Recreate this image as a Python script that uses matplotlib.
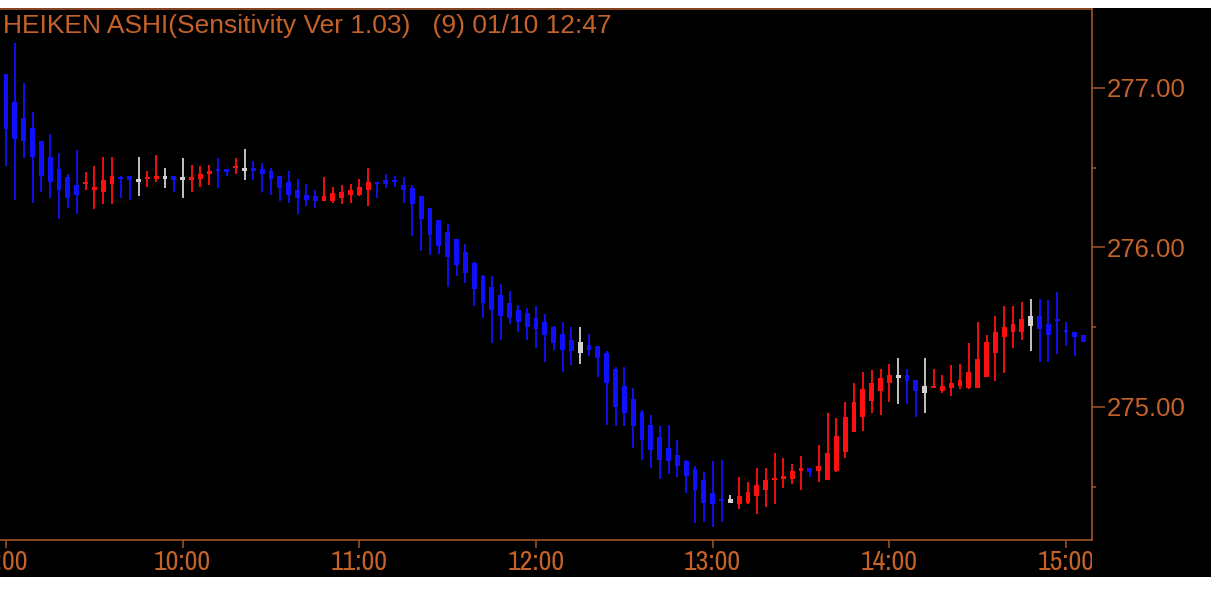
import numpy as np
import matplotlib
matplotlib.use("Agg")
import matplotlib.pyplot as plt
from matplotlib import font_manager as fm
from matplotlib.patches import Rectangle
from matplotlib.transforms import Bbox, TransformedBbox
from matplotlib.ticker import FixedLocator

# ---------------- data (3-minute Heiken Ashi candles from 9:00) ----------------
opens = [277.09, 276.91, 276.81, 276.75, 276.67, 276.57, 276.49, 276.44, 276.39, 276.40,
         276.36, 276.35, 276.40, 276.44, 276.45, 276.41, 276.43, 276.43, 276.43, 276.45,
         276.42, 276.42, 276.43, 276.46, 276.49, 276.49, 276.50, 276.48, 276.50, 276.49,
         276.48, 276.45, 276.41, 276.36, 276.33, 276.32, 276.29, 276.29, 276.31, 276.33,
         276.33, 276.36, 276.41, 276.42, 276.42, 276.39, 276.37, 276.32, 276.25, 276.17,
         276.10, 276.05, 275.97, 275.90, 275.82, 275.75, 275.70, 275.65, 275.61, 275.59,
         275.56, 275.53, 275.50, 275.46, 275.42, 275.41, 275.39, 275.38, 275.34, 275.24,
         275.13, 275.05, 274.97, 274.89, 274.81, 274.74, 274.70, 274.66, 274.61, 274.54,
         274.46, 274.42, 274.40, 274.39, 274.40, 274.44, 274.48, 274.54, 274.55, 274.55,
         274.60, 274.62, 274.60, 274.54, 274.60, 274.72, 274.84, 274.94, 275.04, 275.10,
         275.15, 275.18, 275.20, 275.17, 275.13, 275.12, 275.10, 275.12, 275.13, 275.12,
         275.12, 275.19, 275.34, 275.44, 275.47, 275.47, 275.51, 275.57, 275.52, 275.55,
         275.48, 275.47, 275.45]
highs = [277.09, 277.28, 277.03, 276.85, 276.67, 276.71, 276.59, 276.46, 276.61, 276.47,
         276.51, 276.57, 276.57, 276.45, 276.45, 276.57, 276.48, 276.58, 276.50, 276.45,
         276.56, 276.52, 276.51, 276.52, 276.56, 276.49, 276.56, 276.62, 276.54, 276.53,
         276.50, 276.45, 276.48, 276.43, 276.40, 276.36, 276.44, 276.38, 276.39, 276.40,
         276.43, 276.50, 276.41, 276.46, 276.45, 276.44, 276.39, 276.32, 276.25, 276.17,
         276.15, 276.05, 276.02, 275.91, 275.83, 275.82, 275.77, 275.73, 275.64, 275.62,
         275.63, 275.58, 275.51, 275.53, 275.50, 275.50, 275.46, 275.38, 275.35, 275.25,
         275.25, 275.12, 274.98, 274.95, 274.88, 274.89, 274.79, 274.67, 274.63, 274.59,
         274.66, 274.67, 274.45, 274.56, 274.53, 274.62, 274.62, 274.71, 274.68, 274.64,
         274.69, 274.62, 274.76, 274.96, 274.93, 275.03, 275.15, 275.22, 275.23, 275.24,
         275.27, 275.31, 275.24, 275.17, 275.31, 275.24, 275.20, 275.26, 275.27, 275.40,
         275.53, 275.45, 275.57, 275.63, 275.63, 275.66, 275.68, 275.68, 275.67, 275.72,
         275.53, 275.47, 275.45]
lows = [276.51, 276.30, 276.56, 276.28, 276.35, 276.31, 276.18, 276.25, 276.21, 276.36,
        276.24, 276.27, 276.27, 276.31, 276.30, 276.32, 276.38, 276.41, 276.37, 276.35,
        276.31, 276.35, 276.38, 276.39, 276.37, 276.45, 276.46, 276.42, 276.42, 276.35,
        276.33, 276.29, 276.28, 276.21, 276.26, 276.25, 276.29, 276.28, 276.27, 276.28,
        276.32, 276.26, 276.31, 276.37, 276.38, 276.28, 276.07, 275.98, 275.95, 275.96,
        275.75, 275.82, 275.78, 275.63, 275.56, 275.40, 275.42, 275.52, 275.47, 275.42,
        275.37, 275.28, 275.36, 275.22, 275.26, 275.27, 275.32, 275.19, 274.89, 274.88,
        274.88, 274.74, 274.67, 274.62, 274.55, 274.58, 274.56, 274.46, 274.27, 274.28,
        274.25, 274.28, 274.40, 274.36, 274.39, 274.33, 274.37, 274.39, 274.49, 274.52,
        274.48, 274.56, 274.53, 274.54, 274.59, 274.68, 274.84, 274.85, 274.96, 274.95,
        275.03, 275.02, 275.02, 274.94, 274.96, 275.12, 275.09, 275.07, 275.11, 275.11,
        275.12, 275.19, 275.16, 275.21, 275.37, 275.42, 275.35, 275.28, 275.28, 275.33,
        275.38, 275.32, 275.41]
closes = [276.74, 276.68, 276.67, 276.57, 276.45, 276.41, 276.36, 276.31, 276.33, 276.41,
          276.38, 276.42, 276.45, 276.43, 276.42, 276.43, 276.44, 276.45, 276.45, 276.42,
          276.44, 276.44, 276.46, 276.48, 276.48, 276.47, 276.51, 276.50, 276.48, 276.46,
          276.43, 276.37, 276.33, 276.31, 276.30, 276.29, 276.32, 276.34, 276.35, 276.36,
          276.38, 276.41, 276.40, 276.40, 276.41, 276.36, 276.27, 276.18, 276.08, 276.01,
          275.94, 275.89, 275.84, 275.74, 275.65, 275.61, 275.57, 275.56, 275.53, 275.50,
          275.49, 275.45, 275.40, 275.36, 275.35, 275.34, 275.36, 275.31, 275.15, 275.00,
          274.96, 274.88, 274.79, 274.73, 274.67, 274.66, 274.63, 274.57, 274.48, 274.40,
          274.39, 274.41, 274.42, 274.44, 274.47, 274.51, 274.54, 274.55, 274.57, 274.60,
          274.62, 274.59, 274.63, 274.71, 274.82, 274.94, 275.03, 275.11, 275.15, 275.18,
          275.20, 275.20, 275.16, 275.10, 275.09, 275.13, 275.13, 275.15, 275.17, 275.22,
          275.30, 275.41, 275.47, 275.50, 275.52, 275.55, 275.57, 275.49, 275.45, 275.54,
          275.47, 275.44, 275.41]
# b = bearish (blue), r = bullish (red), w = neutral (white)
candle_kind = ("bbbbbbbbb" + "rrrr" + "bb" + "w" + "rr" + "w" + "b" + "w" + "rrr" + "bb"
               + "r" + "w" + "bbbbbbbb" + "rrrrrr" + "b" * 23 + "w" + "b" * 16 + "w"
               + "r" * 8 + "b" + "r" * 9 + "w" + "bb" + "w" + "r" * 11 + "w" + "b" * 6)
tick_minutes = [0, 60, 120, 180, 240, 300, 360]
tick_labels = ["9:00", "10:00", "11:00", "12:00", "13:00", "14:00", "15:00"]
price_ticks = [275.0, 276.0, 277.0]
price_minor = [274.5, 275.5, 276.5]
title = "HEIKEN ASHI(Sensitivity Ver 1.03)   (9) 01/10 12:47"

# ---------------- style ----------------
TXT = "#c4622a"
SPN = "#a0542a"
KIND_COLOR = {"b": "#1010ff", "r": "#ff1010", "w": "#d2d2d2"}
W, H = 1230, 591


def narrow_font():
    """Pick a narrow sans font for the time labels if one is installed."""
    fl = fm.fontManager.ttflist
    for f in fl:
        if "Narrow" in f.name and f.style == "normal" and f.weight in (400, "normal", "regular"):
            return f.fname, 20
    for f in fl:
        if (f.name == "DejaVu Sans" and f.stretch == "condensed" and f.style == "normal"
                and f.weight in (400, "normal", "regular")):
            return f.fname, 16
    return None, 15


fig = plt.figure(figsize=(W / 100, H / 100), dpi=100)
fig.patch.set_facecolor("white")
fig.patches.append(Rectangle((0, 1 - 577 / H), 1211 / W, (577 - 8) / H,
                             transform=fig.transFigure, facecolor="black",
                             edgecolor="none", zorder=-5))

ax = fig.add_axes([0, 1 - 540 / H, 1091.5 / W, (540 - 9) / H])
ax.set_facecolor("black")

minutes = np.arange(len(opens)) * 3.0
o = np.array(opens); h = np.array(highs); l = np.array(lows); c = np.array(closes)
cols = [KIND_COLOR[k] for k in candle_kind]

ax.vlines(minutes, l, h, colors=cols, linewidth=1.3, zorder=2)
bottoms = np.minimum(o, c)
heights = np.maximum(np.abs(c - o), 0.012)
ax.bar(minutes, heights, bottom=bottoms, width=1.65, color=cols, linewidth=0, zorder=3)

ax.set_xlim(-2.04, 368.66)
ax.set_ylim(274.166, 277.495)

for side in ["top", "right", "bottom"]:
    ax.spines[side].set_color(SPN)
    ax.spines[side].set_linewidth(1.2)
ax.spines["left"].set_visible(False)

ax.set_xticks(tick_minutes, labels=tick_labels)
ax.tick_params(axis="x", which="major", direction="out", length=6, width=1.1,
               color=SPN, labelcolor=TXT, pad=1)
nfile, nsize = narrow_font()
for lab in ax.get_xticklabels():
    if nfile:
        lab.set_fontproperties(fm.FontProperties(fname=nfile, size=nsize))
    else:
        lab.set_fontsize(nsize)

ax.yaxis.tick_right()
ax.set_yticks(price_ticks, labels=[f"{v:.2f}" for v in price_ticks])
ax.yaxis.set_minor_locator(FixedLocator(price_minor))
ax.tick_params(axis="y", which="major", direction="out", length=9, width=1.1,
               color=SPN, labelcolor=TXT, pad=2, labelsize=18.5)
ax.tick_params(axis="y", which="minor", direction="out", length=3, width=1.1, color=SPN)
for lab in ax.get_yticklabels():
    lab.set_fontfamily(["Liberation Sans", "DejaVu Sans"])

clip = TransformedBbox(Bbox([[-0.05, -0.3], [1.0, 1.0]]), ax.transAxes)
for t in ax.xaxis.get_major_ticks():
    t.label1.set_clip_on(True)
    t.label1.set_clip_box(clip)

fig.text(3 / W, 1 - 33 / H, title, ha="left", va="baseline", color=TXT,
         fontsize=19, family=["Liberation Sans", "DejaVu Sans"])

fig.savefig("out.png", dpi=100, facecolor=fig.get_facecolor())
